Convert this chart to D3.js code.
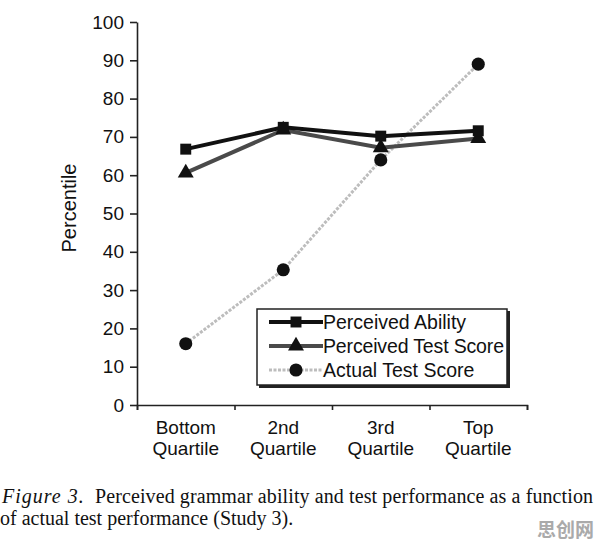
<!DOCTYPE html>
<html>
<head>
<meta charset="utf-8">
<script src="https://cdn.jsdelivr.net/npm/d3@7"></script>
<style>
body { margin: 0; background: #fff; }
svg { display: block; }
</style>
</head>
<body>
<svg id="chart" width="596" height="544"></svg>
<script>
var categories = [["Bottom", "Quartile"], ["2nd", "Quartile"], ["3rd", "Quartile"], ["Top", "Quartile"]];
var perceived_ability = [66.8, 72.5, 70.2, 71.6];
var perceived_test = [60.6, 71.8, 67.2, 69.6];
var actual_test = [16.0, 35.3, 64.0, 89.0];
var y_ticks = [0, 10, 20, 30, 40, 50, 60, 70, 80, 90, 100];
var series_names = ["Perceived Ability", "Perceived Test Score", "Actual Test Score"];

var svg = d3.select("#chart");
var sans = "'Liberation Sans', Arial, sans-serif";
var serif = "'Liberation Serif', 'Times New Roman', serif";

var x = d3.scaleBand().domain(d3.range(categories.length)).range([137, 527]).padding(0);
var xEdge = d3.scaleLinear().domain([0, categories.length]).range([137, 527]);
var y = d3.scaleLinear().domain([0, 100]).range([405, 22]);
var cx = function(i){ return x(i) + x.bandwidth()/2; };

// y axis
var gy = svg.append("g").attr("transform", "translate(137,0)")
    .call(d3.axisLeft(y).tickValues(y_ticks).tickSizeInner(7).tickSizeOuter(0).tickPadding(6));
gy.select(".domain").attr("stroke", "#222").attr("stroke-width", 1.6);
gy.selectAll(".tick line").attr("stroke", "#222").attr("stroke-width", 1.6);
gy.selectAll("text").style("font-family", sans).style("font-size", "19px").attr("fill", "#111");

// x axis (ticks at the quartile boundaries)
var gx = svg.append("g").attr("transform", "translate(0,405)")
    .call(d3.axisBottom(xEdge).ticks(categories.length).tickFormat("").tickSizeInner(5).tickSizeOuter(5));
gx.select(".domain").attr("stroke", "#222").attr("stroke-width", 1.6);
gx.selectAll(".tick line").attr("stroke", "#222").attr("stroke-width", 1.6);

categories.forEach(function(c, i){
    var t = svg.append("text")
        .attr("x", cx(i)).attr("y", 434)
        .attr("text-anchor", "middle")
        .style("font-family", sans).style("font-size", "19px").attr("fill", "#111");
    t.append("tspan").attr("x", cx(i)).text(c[0]);
    t.append("tspan").attr("x", cx(i)).attr("dy", 21).text(c[1]);
});

// y title
svg.append("text")
    .attr("transform", "translate(76,208) rotate(-90)")
    .attr("text-anchor", "middle")
    .style("font-family", sans).style("font-size", "20px").attr("fill", "#111")
    .text("Percentile");

var line = d3.line().x(function(d, i){ return cx(i); }).y(function(d){ return y(d); });

// actual test score (light dotted)
svg.append("path").datum(actual_test).attr("d", line)
    .attr("fill", "none").attr("stroke", "#bdbdbd").attr("stroke-width", 3)
    .attr("stroke-dasharray", "3,1.5");
// perceived test score (gray)
svg.append("path").datum(perceived_test).attr("d", line)
    .attr("fill", "none").attr("stroke", "#4a4a4a").attr("stroke-width", 4);
// perceived ability (black)
svg.append("path").datum(perceived_ability).attr("d", line)
    .attr("fill", "none").attr("stroke", "#111").attr("stroke-width", 4);

var sq = d3.symbol().type(d3.symbolSquare).size(120);
var tri = d3.symbol().type(d3.symbolTriangle).size(110);
var circ = d3.symbol().type(d3.symbolCircle).size(135);

svg.selectAll(".m_pt").data(perceived_test).enter().append("path")
    .attr("d", tri).attr("fill", "#111")
    .attr("transform", function(d, i){ return "translate(" + cx(i) + "," + y(d) + ")"; });
svg.selectAll(".m_pa").data(perceived_ability).enter().append("path")
    .attr("d", sq).attr("fill", "#111")
    .attr("transform", function(d, i){ return "translate(" + cx(i) + "," + y(d) + ")"; });
svg.selectAll(".m_at").data(actual_test).enter().append("path")
    .attr("d", circ).attr("fill", "#111")
    .attr("transform", function(d, i){ return "translate(" + cx(i) + "," + y(d) + ")"; });

// legend
var lg = svg.append("g");
lg.append("rect").attr("x", 259).attr("y", 311).attr("width", 251).attr("height", 77)
    .attr("fill", "#222");
lg.append("rect").attr("x", 257).attr("y", 309).attr("width", 250).attr("height", 76)
    .attr("fill", "#fff").attr("stroke", "#222").attr("stroke-width", 1.5);
var lstyle = [
    {stroke: "#111", width: 4, dash: null, sym: sq},
    {stroke: "#4a4a4a", width: 4, dash: null, sym: tri},
    {stroke: "#bdbdbd", width: 3, dash: "3,1.5", sym: circ}
];
series_names.forEach(function(n, i){
    var yy = 322 + i * 24;
    lg.append("line").attr("x1", 269).attr("x2", 323).attr("y1", yy).attr("y2", yy)
        .attr("stroke", lstyle[i].stroke).attr("stroke-width", lstyle[i].width)
        .attr("stroke-dasharray", lstyle[i].dash);
    lg.append("path").attr("d", lstyle[i].sym).attr("fill", "#111")
        .attr("transform", "translate(296," + yy + ")");
    lg.append("text").attr("x", 323).attr("y", yy + 7)
        .attr("textLength", i == 1 ? 181 : null)
        .style("font-family", sans).style("font-size", "19.5px").attr("fill", "#111")
        .text(n);
});

// caption
var cap = svg.append("text").attr("x", 2).attr("y", 503)
    .style("font-family", serif).style("font-size", "20px").attr("fill", "#111");
cap.append("tspan").style("font-style", "italic").style("letter-spacing", "1px").text("Figure 3.");
cap.append("tspan").attr("x", 95).attr("textLength", 498).text("Perceived grammar ability and test performance as a function");
svg.append("text").attr("x", 0).attr("y", 525)
    .style("font-family", serif).style("font-size", "20px").attr("fill", "#111")
    .text("of actual test performance (Study 3).");

// watermark
svg.append("text").attr("x", 594).attr("y", 537).attr("text-anchor", "end")
    .style("font-family", "'Noto Sans CJK SC', sans-serif").style("font-size", "19px")
    .style("font-weight", "bold").attr("fill", "#aaa")
    .text("思创网");
</script>
</body>
</html>
